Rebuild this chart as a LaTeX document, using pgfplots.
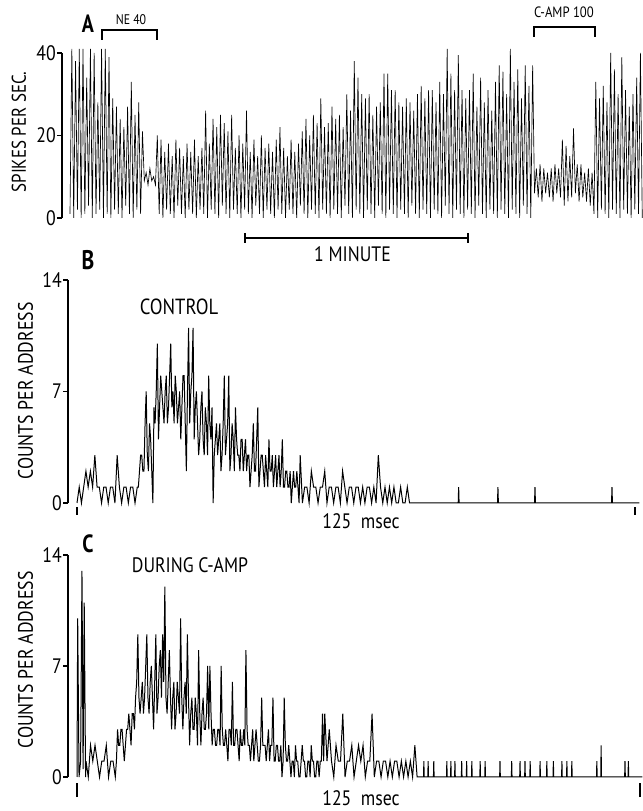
\documentclass[border=0pt]{standalone}
\usepackage{fontspec}
\setmainfont{PT Sans}[FakeStretch=0.85]
\newfontfamily\lettfont{PT Sans Bold}[FakeStretch=0.8]
\usepackage{pgfplots}
\pgfplotsset{compat=1.18}
\newcommand{\lab}{\fontsize{21}{21}\selectfont}
\begin{document}
\begin{tikzpicture}[x=1bp,y=1bp]
\useasboundingbox (0,0) rectangle (643,811);
\pgfplotsset{
  panel/.style={
    scale only axis, anchor=south west, clip=false,
    axis y line*=left, y axis line style={-, line width=1.3bp},
    tick align=outside, major tick length=5bp,
    ytick style={line width=1.3bp, black},
    yticklabel style={font=\lab, inner sep=1bp},
    /pgf/number format/assume math mode=true,
  },
  hist/.style={
    axis x line*=bottom, x axis line style={draw=none},
    xtick={0,250}, xticklabels={,},
  },
}
% ---------------- Panel A ----------------
\begin{axis}[panel, at={(62bp,593bp)}, width=581bp, height=165bp,
  xmin=-2.15, xmax=154.2, ymin=0, ymax=40, ytick={0,20,40},
  axis x line=none]
\addplot[black, line width=0.65bp] coordinates {
(0,1)(0.5,41)(1,0)(1.5,38)(2,2)(2.5,41)(3,0)(3.5,41)(4,1)(4.5,34)(5,3)(5.5,41)(6,0)(6.5,40)(7,1)(7.5,28)(8,2)(8.5,41)(9,0)(9.5,41)
(10,1)(10.5,39)(11,0)(11.5,29)(12,2)(12.5,27)(13,1)(13.5,24)(14,0)(14.5,22)(15,3)(15.5,27)(16,1)(16.5,33)(17,0)(17.5,25)(18,2)(18.5,28)(19,1)(19.5,21)
(20,9)(20.5,11)(21,8)(21.5,12)(22,9)(22.5,10)(23,8)(23.5,20)(24,1)(24.5,19)(25,0)(25.5,16)(26,2)(26.5,18)(27,1)(27.5,15)(28,0)(28.5,19)(29,3)(29.5,17)
(30,1)(30.5,15)(31,0)(31.5,18)(32,2)(32.5,16)(33,1)(33.5,19)(34,0)(34.5,15)(35,2)(35.5,17)(36,1)(36.5,26)(37,0)(37.5,18)(38,2)(38.5,24)(39,1)(39.5,22)
(40,0)(40.5,25)(41,3)(41.5,23)(42,1)(42.5,21)(43,0)(43.5,25)(44,2)(44.5,17)(45,1)(45.5,20)(46,0)(46.5,18)(47,2)(47.5,26)(48,1)(48.5,16)(49,0)(49.5,19)
(50,3)(50.5,15)(51,1)(51.5,20)(52,0)(52.5,17)(53,2)(53.5,18)(54,1)(54.5,16)(55,0)(55.5,19)(56,2)(56.5,22)(57,1)(57.5,17)(58,0)(58.5,15)(59,2)(59.5,19)
(60,1)(60.5,16)(61,0)(61.5,18)(62,3)(62.5,21)(63,1)(63.5,24)(64,0)(64.5,20)(65,2)(65.5,25)(66,1)(66.5,23)(67,0)(67.5,29)(68,2)(68.5,22)(69,1)(69.5,23)
(70,0)(70.5,27)(71,2)(71.5,24)(72,1)(72.5,25)(73,0)(73.5,22)(74,3)(74.5,30)(75,1)(75.5,26)(76,0)(76.5,38)(77,2)(77.5,34)(78,1)(78.5,30)(79,0)(79.5,29)
(80,2)(80.5,30)(81,1)(81.5,25)(82,0)(82.5,27)(83,3)(83.5,28)(84,1)(84.5,35)(85,0)(85.5,35)(86,2)(86.5,31)(87,1)(87.5,31)(88,0)(88.5,28)(89,2)(89.5,27)
(90,1)(90.5,29)(91,0)(91.5,28)(92,3)(92.5,26)(93,1)(93.5,30)(94,0)(94.5,32)(95,2)(95.5,29)(96,1)(96.5,31)(97,0)(97.5,31)(98,2)(98.5,28)(99,1)(99.5,33)
(100,0)(100.5,30)(101,3)(101.5,41)(102,1)(102.5,35)(103,0)(103.5,31)(104,2)(104.5,39.5)(105,1)(105.5,31)(106,0)(106.5,29)(107,2)(107.5,31)(108,1)(108.5,35)(109,0)(109.5,27)
(110,3)(110.5,34)(111,1)(111.5,28)(112,0)(112.5,31)(113,2)(113.5,26)(114,1)(114.5,33)(115,0)(115.5,37)(116,2)(116.5,35.5)(117,1)(117.5,30)(118,0)(118.5,41)(119,2)(119.5,33)
(120,1)(120.5,36)(121,0)(121.5,29)(122,3)(122.5,37)(123,1)(123.5,32)(124,0)(124.5,37)(125,6)(125.5,12)(126,5)(126.5,13)(127,4)(127.5,12)(128,6)(128.5,11)(129,5)(129.5,12)
(130,4)(130.5,13)(131,6)(131.5,12)(132,5)(132.5,19)(133,3)(133.5,17.5)(134,4)(134.5,15)(135,5)(135.5,21.7)(136,6)(136.5,13)(137,4)(137.5,13)(138,5)(138.5,11)(139,4)(139.5,12)
(140,3)(140.5,11)(141,1)(141.5,33)(142,0)(142.5,29)(143,2)(143.5,32)(144,1)(144.5,28)(145,0)(145.5,40)(146,2)(146.5,36)(147,1)(147.5,30)(148,0)(148.5,39)(149,2)(149.5,31)
(150,1)(150.5,27)(151,0)(151.5,30)(152,2)(152.5,34)(153,1)(153.5,40)(154,0)
};
\end{axis}
% ---------------- Panel B ----------------
\begin{axis}[panel, hist, at={(68bp,308bp)}, width=575bp, height=223bp,
  xmin=-4.03, xmax=253.6, ymin=0, ymax=14, ytick={0,7,14},
  xtick style={line width=1.3bp, black, yshift=-4bp, /pgfplots/major tick length=8bp}]
\addplot[black, line width=1bp] coordinates {
(0,0)(1,1)(2,0)(3,1)(4,2)(5,1)(6,2)(7,1)(8,3)(9,1)(10,1)(11,0)(12,1)(13,1)(14,0)(15,1)(16,1)(17,0)(18,3)(19,1)
(20,0)(21,1)(22,1)(23,0)(24,1)(25,1)(26,0)(27,1)(27.5,1)(28,2)(28.5,3)(29,3)(29.5,2)(30,2)(30.5,5)(31,7)(31.5,3)(32,2)(32.5,5)(33,4)(33.5,2)
(34,0)(34.5,6)(35,5)(35.5,7)(36,10)(36.5,4)(37,6)(37.5,8)(38,7)(38.5,6)(39,5)(39.5,7)(40,8)(40.5,5)(41,6)(41.5,8)(42,10)(42.5,6)(43,7)(43.5,5)
(44,8)(44.5,7)(45,5)(45.5,6)(46,7)(46.5,4)(47,6)(47.5,8)(48,8)(48.5,5)(49,2)(49.5,7)(50,11)(50.5,5)(51,7)(51.5,8)(52,11)(52.5,4)(53,6)(53.5,7)
(54,5)(54.5,3)(55,4)(55.5,6)(56,7)(56.5,4)(57,3)(57.5,6)(58,5)(58.5,3)(59,8)(59.5,5)(60,4)(60.5,6)(61,0)(61.5,3)(62,4)(62.5,5)(63,3)(63.5,4)
(64,5)(64.5,2)(65,3)(65.5,5)(66,8)(66.5,3)(67,4)(67.5,5)(68,8)(68.5,2)(69,3)(69.5,5)(70,4)(70.5,2)(71,6)(71.5,4)(72,3)(72.5,3)(73,2)(73.5,4)
(74,4)(74.5,2)(75,3)(75.5,4)(76,2)(76.5,3)(77,3)(77.5,1)(78,2)(78.5,3)(79,5)(79.5,2)(80,2)(80.5,4)(81,6)(81.5,1)(82,2)(82.5,3)(83,3)(83.5,2)
(84,1)(84.5,3)(85,2)(85.5,1)(86,4)(86.5,2)(87,2)(87.5,3)(88,1)(88.5,2)(89,3)(89.5,1)(90,2)(90.5,3)(91,1)(91.5,2)(92,4)(92.5,1)(93,1)(93.5,2)
(94,2)(94.5,1)(95,1)(95.5,2)(96,0)(96.5,1)(97,2)(97.5,1)(98,1)(98.5,2)(99,1)(99.5,0)
(100,3)(101,0)(102,1)(103,1)(104,0)(105,2)(106,1)(107,1)(108,0)(109,1)(110,1)(111,2)(112,0)(113,1)(114,1)(115,0)(116,1)(117,1)(118,0)(119,2)
(120,1)(121,0)(122,1)(123,1)(124,0)(125,1)(126,1)(127,0)(128,1)(129,0)(130,1)(131,1)(132,0)(133,1)(134,0)(135,3)(136,1)(137,0)(138,1)(139,0)
(140,1)(141,0)(142,1)(143,0)(144,0)(145,1)(146,0)(147,0)(148,1)(149,0)(150,0)
(170.8,0)(171,1)(171.2,0)(188.4,0)(188.6,1)(188.8,0)(205,0)(205.2,1)(205.4,0)(239.5,0)(239.7,1)(239.9,0)(252,0)
};
\end{axis}
% ---------------- Panel C ----------------
\begin{axis}[panel, hist, at={(68bp,34bp)}, width=575bp, height=222bp,
  xmin=-4.0, xmax=251.3, ymin=0, ymax=14, ytick={0,7,14},
  xtick style={line width=1.3bp, black, yshift=-6bp, /pgfplots/major tick length=14bp}]
\addplot[black, line width=1bp] coordinates {
(0,0)(0.3,10)(0.9,0)(1.6,1)(2.2,13)(2.7,0.5)(3.2,11)(3.8,0)
(4,1)(5,0)(6,2)(7,1)(8,2)(9,1)(10,0)(11,1)(12,1)(13,2)(14,0)(15,1)(16,1)(17,0)
(17.5,1)(18,3)(18.5,2)(19,2)(19.5,3)(20,3)(20.5,2)(21,1)(21.5,2)(22,3)(22.5,3)(23,4)(23.5,3)(24,2)(24.5,4)(25,4)(25.5,3)(26,5)(26.5,6)(27,9)
(27.5,5)(28,4)(28.5,5)(29,6)(29.5,4)(30,5)(30.5,7)(31,9)(31.5,5)(32,4)(32.5,6)(33,7)(33.5,5)(34,3)(34.5,6)(35,9)(35.5,4)(36,5)(36.5,7)(37,8)
(37.5,5)(38,9)(38.5,6)(39,12)(39.5,5)(40,4)(40.5,6)(41,8)(41.5,5)(42,3)(42.5,5)(43,6)(43.5,3)(44,4)(44.5,6)(45,5)(45.5,4)(46,10)(46.5,5)(47,3)
(47.5,5)(48,6)(48.5,4)(49,9)(49.5,5)(50,2)(50.5,4)(51,5)(51.5,3)(52,3)(52.5,5)(53,4)(53.5,2)(54,8)(54.5,4)(55,2)(55.5,4)(56,5)(56.5,3)(57,3)
(57.5,4)(58,7)(58.5,3)(59,7)(59.5,4)(60,2)(60.5,3)(61,3)(61.5,2)(62,2)(62.5,3)(63,3)(63.5,2)(64,7)(64.5,3)(65,2)(65.5,2)(66,3)(66.5,2)(67,1)
(67.5,3)(68,3)(68.5,2)(69,6)(69.5,2)(70,2)(70.5,3)(71,3)(71.5,2)(72,1)(72.5,3)(73,2)(73.5,2)(74,3)(74.5,2)(75,8)(75.5,3)(76,2)(76.5,2)(77,1)
(77.5,2)(78,3)(78.5,1)(79,2)(79.5,3)(80,2)(80.5,1)(81,1)(81.5,2)(82,5)(82.5,2)(83,2)(83.5,2)(84,1)(84.5,2)(85,3)(85.5,1)(86,2)(86.5,2)(87,5)
(87.5,1)(88,1)(88.5,2)(89,2)(89.5,1)(90,1)(90.5,2)(91,0)(91.5,1)(92,5)(92.5,2)(93,1)(93.5,1)(94,2)(94.5,1)(95,0)(95.5,1)(96,1)(96.5,0)(97,2)
(97.5,1)(98,1)(98.5,0)(99,0)(99.5,1)(100,2)(100.5,1)(101,1)(101.5,0)(102,0)(102.5,1)(103,1)(103.5,0)(104,2)(104.5,1)(105,1)(105.5,0)(106,0)(106.5,1)(107,1)
(107.5,0)(108,1)(108.5,1)(109,4)(109.5,1)
(110,4)(111,1)(112,3)(113,1)(114,0)(115,2)(116,1)(117,1)(118,4)(119,0)
(120,1)(121,1)(122,2)(123,0)(124,1)(125,2)(126,1)(127,2)(128,0)(129,1)(130,1)(131,4)(132,0)(133,1)(134,1)(135,0)(136,1)(137,1)(138,0)(139,1)
(140,0)(141,1)(142,1)(143,0)(144,1)(145,0)(146,1)(147,0)(148,1)(149,0)(150,2)(151,0)(152,0)
(153.85,0)(154,1)(154.15,0)(155.75,0)(155.9,1)(156.05,0)(158.25,0)(158.4,1)(158.55,0)(164.05,0)(164.2,1)(164.35,0)
(165.85,0)(166,1)(166.15,0)(167.65,0)(167.8,1)(167.95,0)(170.65,0)(170.8,1)(170.95,0)(172.85,0)(173,1)(173.15,0)
(175.15,0)(175.3,1)(175.45,0)(178.85,0)(179,1)(179.15,0)(181.05,0)(181.2,1)(181.35,0)(187.65,0)(187.8,1)(187.95,0)
(192.85,0)(193,1)(193.15,0)(196.55,0)(196.7,1)(196.85,0)(198.75,0)(198.9,1)(199.05,0)(201.05,0)(201.2,1)(201.35,0)
(205.45,0)(205.6,1)(205.75,0)(208.45,0)(208.6,1)(208.75,0)(211.35,0)(211.5,1)(211.65,0)(215.15,0)(215.3,1)(215.45,0)
(217.35,0)(217.5,1)(217.65,0)(219.55,0)(219.7,1)(219.85,0)(230.65,0)(230.8,1)(230.95,0)(232.55,0)(232.7,2)(232.85,0)
(243.15,0)(243.3,1)(243.45,0)(244.65,0)(244.8,1)(244.95,0)(251,0)
};
\end{axis}
% ---------------- annotations ----------------
\node[font=\lettfont\fontsize{25}{25}\selectfont] at (88,787) {A};
\node[font=\fontsize{14}{14}\selectfont] at (131,791) {NE 40};
\draw[line width=1.3bp] (102,771)--(102,781)--(157,781)--(157,771);
\node[font=\fontsize{15}{15}\selectfont] at (564,798.5) {C-AMP 100};
\draw[line width=1.3bp] (534,774)--(534,784)--(595,784)--(595,774);
\node[rotate=90, font=\fontsize{20}{20}\selectfont] at (19,679) {SPIKES PER SEC.};
\draw[line width=1.3bp] (245,573)--(468,573);
\draw[line width=1.3bp] (245,568)--(245,578);
\draw[line width=1.3bp] (468,568)--(468,578);
\node[font=\lab] at (352.5,556.5) {1 MINUTE};
\node[font=\lettfont\fontsize{27}{27}\selectfont] at (88,550.5) {B};
\node[rotate=90, font=\lab] at (25.5,420) {COUNTS PER ADDRESS};
\node[font=\fontsize{22}{22}\selectfont] at (179,504.5) {CONTROL};
\node[font=\lab] at (361,289.5) {125\ \ msec};
\node[font=\lettfont\fontsize{25}{25}\selectfont] at (88,267.5) {C};
\node[rotate=90, font=\lab] at (25.5,151) {COUNTS PER ADDRESS};
\node[font=\lab] at (190,245.5) {DURING C-AMP};
\node[font=\lab] at (361,13) {125\ \ msec};
\end{tikzpicture}
\end{document}
